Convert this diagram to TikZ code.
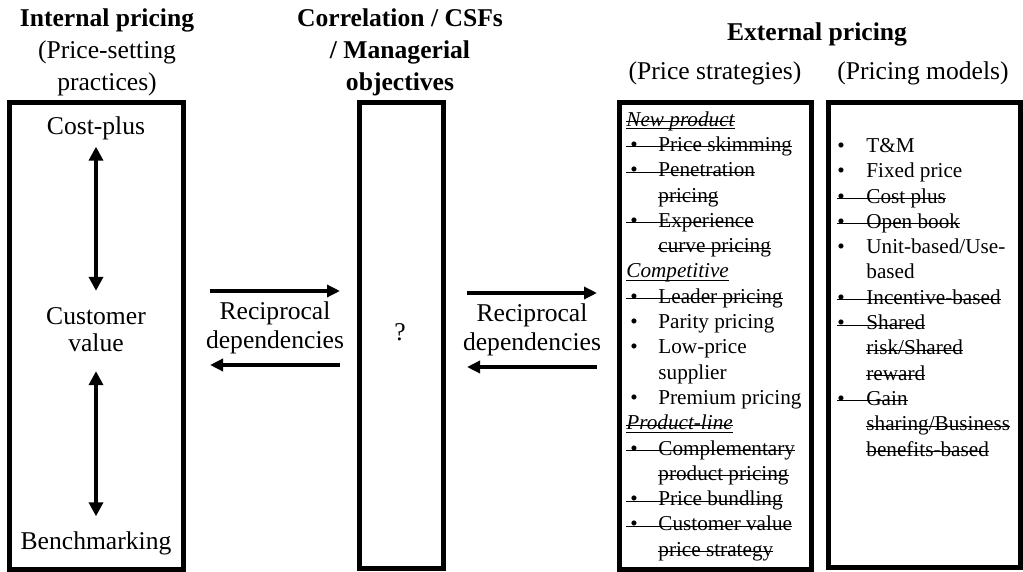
\documentclass[tikz,border=0pt]{standalone}
\usepackage{fontspec}
\setmainfont{Liberation Serif}
\usetikzlibrary{arrows.meta}

\newcommand{\gone}[1]{\leavevmode\setbox0\hbox{#1}\rlap{\rule[0.42ex]{\wd0}{0.5pt}}\box0}
\newcommand{\undl}[1]{\leavevmode\setbox0\hbox{#1}\rlap{\rule[-1.6pt]{\wd0}{0.5pt}}\box0}
\newcommand{\sbul}{\makebox[16pt][l]{\hspace{2pt}\textbullet}}
\newcommand{\mbul}{\makebox[14.5pt][l]{\textbullet}}
\newcommand{\cont}{\hspace*{16pt}}
\newcommand{\mcont}{\hspace*{14.5pt}}
\newcommand{\head}[1]{\undl{\textit{#1}}}
\newcommand{\headgone}[1]{\undl{\gone{\textit{#1}}}}

\tikzset{
  box/.style={draw, line width=2.5pt, inner sep=0pt},
  title/.style={align=center, font=\fontsize{12.8}{16}\selectfont},
  word/.style={align=center, font=\fontsize{12.8}{14.5}\selectfont},
  list/.style={align=left, inner sep=0pt, font=\fontsize{10.6}{12.65}\selectfont},
  dep/.style={line width=2pt, -{Triangle[length=6.5pt,width=6pt]}},
  dbl/.style={line width=2pt, {Triangle[length=7pt,width=7pt]}-{Triangle[length=7pt,width=7pt]}}
}

\begin{document}
\begin{tikzpicture}[x=0.5pt,y=-0.5pt]
\useasboundingbox (0,0) rectangle (1023,572);

% titles
\node[title] (intitle) at (107,52) {\textbf{Internal pricing}\\(Price-setting\\practices)};
\node[title, font=\bfseries\fontsize{12.8}{16}\selectfont] (csftitle) at (400,52) {Correlation / CSFs\\/ Managerial\\objectives};
\node[title, font=\bfseries\fontsize{12.8}{16}\selectfont] (extitle) at (817,34) {External pricing};
\node[title] (strattitle) at (715,73) {(Price strategies)};
\node[title] (modtitle) at (923,73) {(Pricing models)};

% boxes
\node[box, minimum width=87pt, minimum height=233pt] (internal) at (96,336) {};
\node[box, minimum width=42pt, minimum height=232.5pt] (csf) at (401,335.5) {};
\node[box, minimum width=96pt, minimum height=233pt] (strat) at (715,336) {};
\node[box, minimum width=96pt, minimum height=232pt] (models) at (924,335) {};

% internal pricing
\node[word] (cost) at (96,128) {Cost-plus};
\node[word, font=\fontsize{12.8}{13.5}\selectfont] (cv) at (96,330) {Customer\\value};
\node[word] (bench) at (96,543) {Benchmarking};
\draw[dbl, shorten >=5pt] (cost) -- (cv);
\draw[dbl, shorten <=6pt, shorten >=4pt] (cv) -- (bench);

% middle
\node[word] (q) at (400,332) {?};
\node[word] (dep1) at (275,328) {Reciprocal\\dependencies};
\node[word] (dep2) at (532,330) {Reciprocal\\dependencies};
\coordinate (l1) at (210,291);
\coordinate (r1) at (340,291);
\coordinate (l2) at (210,365);
\coordinate (r2) at (340,365);
\coordinate (l3) at (467,293);
\coordinate (r3) at (597,293);
\coordinate (l4) at (467,367);
\coordinate (r4) at (597,367);
\draw[dep] (l1) -- (r1);
\draw[dep] (r2) -- (l2);
\draw[dep] (l3) -- (r3);
\draw[dep] (r4) -- (l4);

% price strategies
\node[list, anchor=north west] (stratlist) at (626,111) {%
\headgone{New product}\\
\gone{\sbul Price skimming}\\
\gone{\sbul Penetration}\\
\cont\gone{pricing}\\
\gone{\sbul Experience}\\
\cont\gone{curve pricing}\\
\head{Competitive}\\
\gone{\sbul Leader pricing}\\
\sbul Parity pricing\\
\sbul Low-price\\
\cont supplier\\
\sbul Premium pricing\\
\headgone{Product-line}\\
\gone{\sbul Complementary}\\
\cont\gone{product pricing}\\
\gone{\sbul Price bundling}\\
\gone{\sbul Customer value}\\
\cont\gone{price strategy}};

% pricing models
\node[list, anchor=north west] (modlist) at (837,138) {%
\mbul T\&M\\
\mbul Fixed price\\
\gone{\mbul Cost plus}\\
\gone{\mbul Open book}\\
\mbul Unit-based/Use-\\
\mcont based\\
\gone{\mbul Incentive-based}\\
\gone{\mbul Shared}\\
\mcont\gone{risk/Shared}\\
\mcont\gone{reward}\\
\gone{\mbul Gain}\\
\mcont\gone{sharing/Business}\\
\mcont\gone{benefits-based}};
\end{tikzpicture}
\end{document}
